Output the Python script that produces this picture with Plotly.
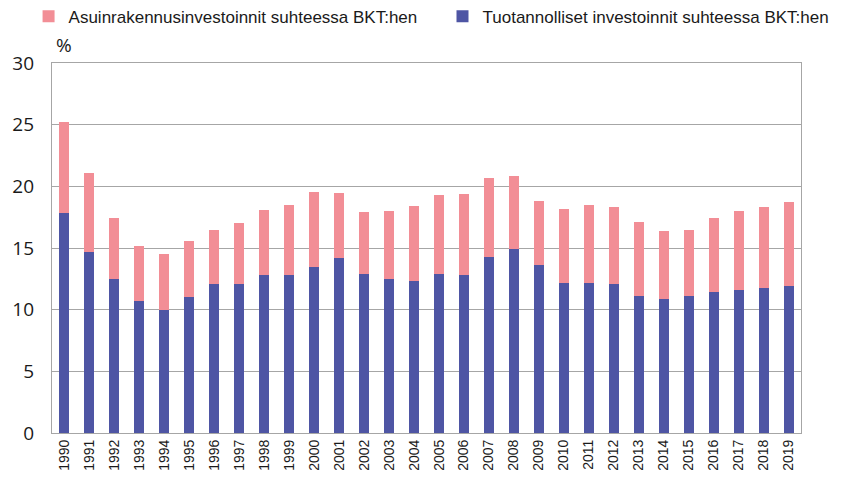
import plotly.graph_objects as go

years = [str(y) for y in range(1990, 2020)]

# Tuotannolliset investoinnit suhteessa BKT:hen (%)
tuotannolliset = [17.8, 14.7, 12.45, 10.7, 10.0, 11.0, 12.1, 12.1, 12.8, 12.85,
                  13.5, 14.2, 12.9, 12.45, 12.35, 12.9, 12.85, 14.25, 14.95, 13.6,
                  12.2, 12.2, 12.05, 11.1, 10.9, 11.1, 11.4, 11.6, 11.75, 11.95]

# kokonaiskorkeus (tuotannolliset + asuinrakennus)
yhteensa = [25.2, 21.1, 17.4, 15.15, 14.5, 15.6, 16.5, 17.0, 18.1, 18.5,
            19.55, 19.5, 17.95, 18.0, 18.4, 19.3, 19.4, 20.7, 20.8, 18.8,
            18.2, 18.5, 18.3, 17.1, 16.4, 16.5, 17.4, 18.0, 18.3, 18.7]

asuinrakennus = [round(t - b, 2) for t, b in zip(yhteensa, tuotannolliset)]

fig = go.Figure()
fig.add_trace(go.Bar(x=years, y=tuotannolliset, name="Tuotannolliset investoinnit suhteessa BKT:hen",
                     marker=dict(color="#4E55A4", line=dict(width=0)), legend="legend2"))
fig.add_trace(go.Bar(x=years, y=asuinrakennus, name="Asuinrakennusinvestoinnit suhteessa BKT:hen",
                     marker=dict(color="#F28E96", line=dict(width=0)), legend="legend"))

leg = dict(orientation="h", xref="container", yref="container", y=0.982,
           xanchor="left", yanchor="middle", font=dict(size=17), itemwidth=30,
           bgcolor="rgba(0,0,0,0)")

fig.update_layout(
    barmode="stack",
    bargap=0.6,
    width=857, height=481,
    margin=dict(l=44, r=64, t=55, b=56),
    plot_bgcolor="white",
    paper_bgcolor="white",
    font=dict(family="Liberation Sans, Arial", color="#1a1a1a"),
    legend=dict(leg, x=0.024),
    legend2=dict(leg, x=0.507),
    showlegend=True,
)

fig.update_xaxes(
    tickangle=-90, tickfont=dict(size=14), ticks="", showgrid=False, automargin=False,
    showline=True, linecolor="#A6A6A6", mirror=True, linewidth=1.2,
)
fig.update_yaxes(
    range=[0, 30], dtick=5, tickfont=dict(family="Open Sans", size=19),
    ticklabelstandoff=13, showgrid=True, automargin=False,
    gridcolor="#A6A6A6", gridwidth=1, showline=True, linecolor="#A6A6A6",
    mirror=True, linewidth=1.2, ticks="", zeroline=False,
)

fig.add_annotation(text="%", x=0, y=1.0, xref="paper", yref="paper",
                   xanchor="left", yanchor="bottom", xshift=2, yshift=3,
                   showarrow=False, font=dict(family="Open Sans", size=19))

fig.write_html("out.html")
